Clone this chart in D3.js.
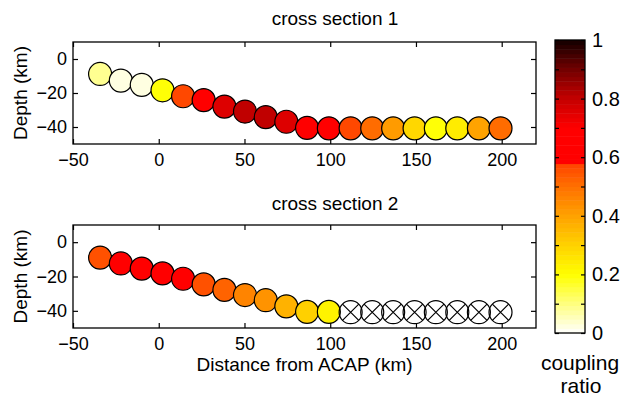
<!DOCTYPE html>
<html>
<head>
<meta charset="utf-8">
<script src="https://cdn.jsdelivr.net/npm/d3@7"></script>
<style>
  body { margin: 0; background: #fff; }
  svg text { font-family: "Liberation Sans", Arial, Helvetica, sans-serif; fill: #000; }
</style>
</head>
<body>
<div id="chart"></div>
<script>
// distance along profile (km), same stations in both cross sections
var distance = [-34.2, -22.1, -9.9, 2.2, 14.2, 26.2, 38.3, 50.3, 62.4, 74.4, 86.5,
                99.2, 111.9, 124.5, 136.7, 149.2, 161.6, 174.1, 186.7, 199.3];
var depth1 = [-8.8, -12.7, -15.2, -18.4, -21.9, -24.2, -28.0, -30.9, -34.2, -36.9, -40.5,
              -40.8, -40.8, -40.8, -40.8, -40.8, -40.8, -40.8, -40.8, -40.8];
var depth2 = [-9.0, -12.4, -15.4, -18.2, -21.3, -24.6, -27.8, -30.8, -33.8, -37.4, -40.6,
              -40.6, -40.8, -40.8, -40.8, -40.8, -40.8, -40.8, -40.8, -40.8];
// coupling ratio, null = not resolved (drawn as crossed circle)
var coupling1 = [0.08, 0.03, 0.02, 0.2, 0.57, 0.64, 0.76, 0.8, 0.8, 0.76, 0.64,
                 0.62, 0.57, 0.5, 0.41, 0.29, 0.2, 0.24, 0.4, 0.5];
var coupling2 = [0.55, 0.62, 0.61, 0.61, 0.6, 0.55, 0.52, 0.46, 0.43, 0.36, 0.3,
                 0.22, null, null, null, null, null, null, null, null];

var xTicks = [-50, 0, 50, 100, 150, 200];
var yTicks = [-40, -20, 0];
var cbTicks = [0, 0.1, 0.2, 0.3, 0.4, 0.5, 0.6, 0.7, 0.8, 0.9, 1];
var cbLabels = [0, 0.2, 0.4, 0.6, 0.8, 1];
var titles = ["cross section 1", "cross section 2"];

// colormap stops (white - yellow - orange - red - black)
var cmapStops = [0, 0.2, 0.3, 0.4, 0.5, 0.58, 0.585, 0.7, 0.8, 0.9, 1];
var cmapColors = ["#ffffff", "#ffff00", "#ffd200", "#ffa200", "#ff7000", "#ff4200",
                  "#ff0000", "#ff0000", "#c40000", "#720000", "#120000"];

var W = 623, H = 399;
var svg = d3.select("#chart").append("svg")
            .attr("width", W)
            .attr("height", H);

var color = d3.scaleLinear().domain(cmapStops).range(cmapColors).clamp(true);
var nLevels = 64;
function cmap(v){ // quantized like a 64 level colormap
	var k = Math.min(nLevels - 1, Math.floor(v * nLevels));
	return color((k + 0.5) / nLevels);
}

var axL = 73, axR = 536;
var panels = [
	{top: 42, bottom: 144, depth: depth1, coupling: coupling1, title: titles[0], titleY: 25},
	{top: 225, bottom: 328, depth: depth2, coupling: coupling2, title: titles[1], titleY: 210}
];

var x = d3.scaleLinear().domain([-50, 220]).range([axL, axR]);
var r = 11.5;

panels.forEach(function(p, pi){
	var y = d3.scaleLinear().domain([-50, 10]).range([p.bottom, p.top]);

	var g = svg.append("g");

	// axes box
	g.append("rect")
	 .attr("x", axL).attr("y", p.top)
	 .attr("width", axR - axL).attr("height", p.bottom - p.top)
	 .attr("fill", "none").attr("stroke", "#000").attr("stroke-width", 1.3);

	// bottom ticks + labels
	var xb = g.append("g").attr("transform", "translate(0," + p.bottom + ")")
	          .call(d3.axisBottom(x).tickValues(xTicks).tickSize(-5).tickPadding(9));
	// top ticks
	var xt = g.append("g").attr("transform", "translate(0," + p.top + ")")
	          .call(d3.axisTop(x).tickValues(xTicks).tickSize(-5).tickFormat(""));
	// left ticks + labels
	var yl = g.append("g").attr("transform", "translate(" + axL + ",0)")
	          .call(d3.axisLeft(y).tickValues(yTicks).tickSize(-5).tickPadding(6));
	// right ticks
	var yr = g.append("g").attr("transform", "translate(" + axR + ",0)")
	          .call(d3.axisRight(y).tickValues(yTicks).tickSize(-5).tickFormat(""));

	[xb, xt, yl, yr].forEach(function(a){
		a.select(".domain").remove();
		a.selectAll("line").attr("stroke", "#000").attr("stroke-width", 1.2);
		a.selectAll("text").attr("font-size", "18px").attr("font-family", null).attr("fill", "#000");
	});

	// y label
	g.append("text")
	 .attr("transform", "translate(27," + ((p.top + p.bottom) / 2) + ") rotate(-90)")
	 .attr("text-anchor", "middle")
	 .attr("font-size", "19px")
	 .text("Depth (km)");

	// title
	g.append("text")
	 .attr("x", 335).attr("y", p.titleY)
	 .attr("text-anchor", "middle")
	 .attr("font-size", "19px")
	 .text(p.title);

	// stations
	var pts = distance.map(function(d, i){
		return {x: d, z: p.depth[i], c: p.coupling[i]};
	});

	var node = g.selectAll(".pt").data(pts).enter()
	            .append("g").attr("class", "pt")
	            .attr("transform", function(d){ return "translate(" + x(d.x) + "," + y(d.z) + ")"; });

	node.append("circle")
	    .attr("r", r)
	    .attr("fill", function(d){ return d.c === null ? "none" : cmap(d.c); })
	    .attr("stroke", "#000")
	    .attr("stroke-width", 1.2);

	var k = r * Math.SQRT1_2;
	node.filter(function(d){ return d.c === null; })
	    .append("path")
	    .attr("d", "M" + (-k) + "," + (-k) + "L" + k + "," + k + "M" + k + "," + (-k) + "L" + (-k) + "," + k)
	    .attr("stroke", "#000")
	    .attr("stroke-width", 1.2)
	    .attr("fill", "none");
});

// x label (bottom panel only)
svg.append("text")
   .attr("x", (axL + axR) / 2).attr("y", 371)
   .attr("text-anchor", "middle")
   .attr("font-size", "19px")
   .text("Distance from ACAP (km)");

// colorbar
var cbL = 555, cbR = 585, cbT = 40, cbB = 333;
var cbScale = d3.scaleLinear().domain([0, 1]).range([cbB, cbT]);
var cb = svg.append("g");
var levels = d3.range(nLevels);
cb.selectAll("rect.lev").data(levels).enter()
  .append("rect").attr("class", "lev")
  .attr("x", cbL)
  .attr("width", cbR - cbL)
  .attr("y", function(k){ return cbScale((k + 1) / nLevels); })
  .attr("height", function(k){ return cbScale(k / nLevels) - cbScale((k + 1) / nLevels) + 0.5; })
  .attr("fill", function(k){ return color((k + 0.5) / nLevels); });

cb.append("rect")
  .attr("x", cbL).attr("y", cbT)
  .attr("width", cbR - cbL).attr("height", cbB - cbT)
  .attr("fill", "none").attr("stroke", "#000").attr("stroke-width", 1.3);

var cbRight = cb.append("g").attr("transform", "translate(" + cbR + ",0)")
                .call(d3.axisRight(cbScale).tickValues(cbTicks).tickSize(-4).tickPadding(7)
                      .tickFormat(function(d){ return cbLabels.indexOf(d) >= 0 ? d3.format("~g")(d) : ""; }));
var cbLeft = cb.append("g").attr("transform", "translate(" + cbL + ",0)")
               .call(d3.axisLeft(cbScale).tickValues(cbTicks).tickSize(-4).tickFormat(""));
[cbRight, cbLeft].forEach(function(a){
	a.select(".domain").remove();
	a.selectAll("line").attr("stroke", "#000").attr("stroke-width", 1.2);
	a.selectAll("text").attr("font-size", "20px").attr("font-family", null).attr("fill", "#000");
});

svg.append("text")
   .attr("x", 580).attr("y", 370)
   .attr("text-anchor", "middle")
   .attr("font-size", "21px")
   .text("coupling");
svg.append("text")
   .attr("x", 581).attr("y", 393)
   .attr("text-anchor", "middle")
   .attr("font-size", "21px")
   .text("ratio");
</script>
</body>
</html>
